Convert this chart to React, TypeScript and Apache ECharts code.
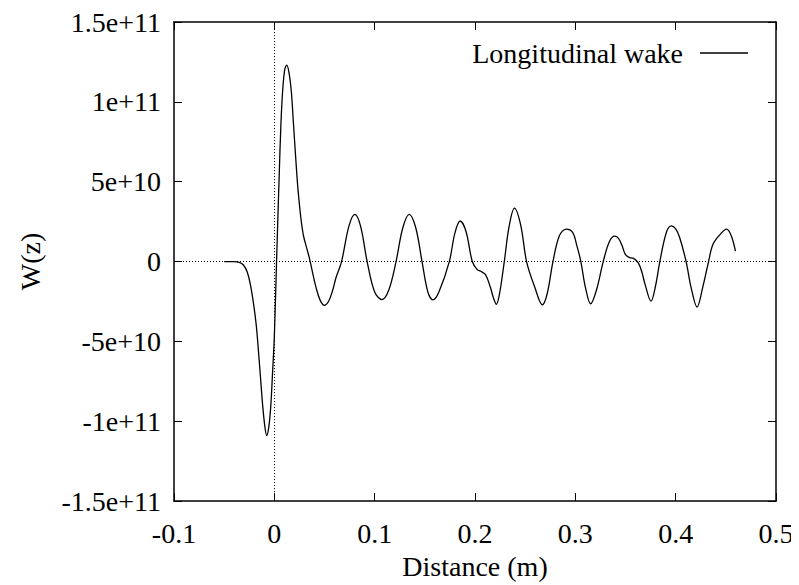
import React, { useEffect, useRef } from "react";
import * as echarts from "echarts";

const seriesName = "Longitudinal wake";
const xTitle = "Distance (m)";
const yTitle = "W(z)";

const xs = [
  -0.05, -0.045, -0.04, -0.035, -0.031, -0.027, -0.024, -0.0207, -0.018, -0.0157,
  -0.0135, -0.0115, -0.0095, -0.0076, -0.0056, -0.0036, -0.0018, 0, 0.0023, 0.0049,
  0.0065, 0.0082, 0.0103, 0.0124, 0.0147, 0.017, 0.019, 0.0213, 0.0232, 0.0252,
  0.0271, 0.0291, 0.032, 0.035, 0.0385, 0.0416, 0.0455, 0.0498, 0.054, 0.058,
  0.0615, 0.067, 0.0744, 0.0803, 0.086, 0.0925, 0.1, 0.1072, 0.114, 0.1213,
  0.128, 0.1344, 0.141, 0.1472, 0.153, 0.158, 0.164, 0.1744, 0.18, 0.1852,
  0.191, 0.1973, 0.2022, 0.2056, 0.2105, 0.2154, 0.2185, 0.2213, 0.2245, 0.2292,
  0.234, 0.2393, 0.2455, 0.2514, 0.2597, 0.2671, 0.272, 0.2777, 0.284, 0.2908,
  0.2973, 0.3015, 0.3055, 0.31, 0.3153, 0.321, 0.3278, 0.334, 0.3393, 0.343,
  0.3465, 0.3498, 0.354, 0.358, 0.3629, 0.3665, 0.3695, 0.3754, 0.38, 0.3842,
  0.3908, 0.3957, 0.4, 0.4039, 0.4104, 0.4154, 0.4213, 0.4269, 0.4328, 0.4367,
  0.4432, 0.4508, 0.4554, 0.4596,
];

const ys = [
  0, 0, 0, -0.05e10, -0.2e10, -0.65e10, -1.4e10, -2.65e10, -4.0e10, -5.7e10,
  -7.5e10, -9.1e10, -10.3e10, -10.9e10, -10.4e10, -9.1e10, -7.0e10, -4.7e10, 0.2e10, 5.5e10,
  8.5e10, 10.6e10, 12.0e10, 12.3e10, 11.8e10, 10.6e10, 8.7e10, 6.5e10, 4.8e10, 3.45e10,
  2.4e10, 1.6e10, 0.9e10, 0.2e10, -0.8e10, -1.63e10, -2.4e10, -2.74e10, -2.5e10, -1.83e10,
  -1.0e10, 0, 2.23e10, 2.95e10, 2.2e10, 0, -1.9e10, -2.38e10, -1.8e10, 0,
  2.1e10, 2.95e10, 2.1e10, 0, -1.9e10, -2.4e10, -1.9e10, 0, 1.8e10, 2.54e10,
  1.9e10, 0, -0.51e10, -0.61e10, -0.82e10, -1.63e10, -2.3e10, -2.68e10, -2.0e10, 0,
  2.2e10, 3.35e10, 2.3e10, 0, -1.63e10, -2.71e10, -2.0e10, 0, 1.6e10, 2.03e10,
  1.83e10, 1.0e10, 0, -1.6e10, -2.65e10, -1.8e10, 0, 1.25e10, 1.59e10, 1.45e10,
  1.01e10, 0.45e10, 0.25e10, 0.2e10, -0.1e10, -0.7e10, -1.43e10, -2.48e10, -1.5e10, 0,
  1.83e10, 2.23e10, 2.05e10, 1.52e10, 0, -1.63e10, -2.85e10, -1.63e10, 0, 1.01e10,
  1.62e10, 2.03e10, 1.62e10, 0.65e10,
];

const xTicks = [-0.1, 0, 0.1, 0.2, 0.3, 0.4, 0.5];
const xTickLabels = ["-0.1", "0", "0.1", "0.2", "0.3", "0.4", "0.5"];
const yTicks = [-1.5e11, -1e11, -5e10, 0, 5e10, 1e11, 1.5e11];
const yTickLabels = ["-1.5e+11", "-1e+11", "-5e+10", "0", "5e+10", "1e+11", "1.5e+11"];

const FONT = "Liberation Serif";
const FS = 28;

function labelFor(v: number, ticks: number[], labels: string[]): string {
  for (let i = 0; i < ticks.length; i++) {
    if (Math.abs(v - ticks[i]) < Math.abs(ticks[1] - ticks[0]) * 1e-6) return "{s|" + labels[i] + "}";
  }
  return "";
}

export default function App() {
  const ref = useRef<HTMLDivElement>(null);
  useEffect(() => {
    if (!ref.current) return;
    const chart = echarts.init(ref.current, null, { renderer: "svg" });
    const data = xs.map((x, i) => [x, ys[i]]);
    const axisLine = { show: true, onZero: false, lineStyle: { color: "#000", width: 1.5 } };
    const axisTick = { show: true, inside: true, length: 8, lineStyle: { color: "#000", width: 1 } };
    const xBase = { type: "value", min: -0.1, max: 0.5, interval: 0.1, splitLine: { show: false }, axisLine, axisTick };
    const yBase = { type: "value", min: -1.5e11, max: 1.5e11, interval: 5e10, splitLine: { show: false }, axisLine, axisTick };
    const rich = { s: { fontFamily: FONT, fontSize: FS, color: "#000" } };
    chart.setOption({
      animation: false,
      textStyle: { fontFamily: FONT },
      grid: { left: 158, right: 23, top: 9, bottom: 76, containLabel: false },
      legend: {
        show: true,
        data: [seriesName],
        right: 46,
        top: 26,
        align: "right",
        icon: "rect",
        itemWidth: 48,
        itemHeight: 1.3,
        selectedMode: false,
        itemStyle: { color: "#000" },
        textStyle: { fontFamily: FONT, fontSize: FS, color: "#000", padding: [0, 12, 0, 0] },
      },
      xAxis: [
        {
          ...xBase,
          position: "bottom",
          name: xTitle,
          nameLocation: "middle",
          nameGap: 44,
          nameTextStyle: { fontFamily: FONT, fontSize: FS, color: "#000" },
          axisLabel: {
            margin: 18,
            fontFamily: FONT,
            fontSize: FS,
            color: "#000",
            rich,
            formatter: (v: number) => labelFor(v, xTicks, xTickLabels),
          },
        },
        { ...xBase, position: "top", axisLabel: { show: false } },
      ],
      yAxis: [
        {
          ...yBase,
          position: "left",
          name: yTitle,
          nameLocation: "middle",
          nameRotate: 90,
          nameGap: 130,
          nameTextStyle: { fontFamily: FONT, fontSize: FS, color: "#000" },
          axisLabel: {
            margin: 13,
            fontFamily: FONT,
            fontSize: FS,
            color: "#000",
            rich,
            formatter: (v: number) => labelFor(v, yTicks, yTickLabels),
          },
        },
        { ...yBase, position: "right", axisLabel: { show: false } },
      ],
      series: [
        {
          name: seriesName,
          type: "line",
          data,
          xAxisIndex: 0,
          yAxisIndex: 0,
          showSymbol: false,
          symbol: "none",
          smooth: 0.35,
          lineStyle: { color: "#000", width: 1.3 },
          itemStyle: { color: "#000" },
          markLine: {
            silent: true,
            symbol: ["none", "none"],
            label: { show: false },
            lineStyle: { color: "#000", width: 1, type: [1, 2] },
            data: [{ yAxis: 0 }, { xAxis: 0 }],
            z: 1,
          },
          z: 3,
        },
      ],
    });
    return () => chart.dispose();
  }, []);
  return <div ref={ref} style={{ width: 791, height: 577 }} />;
}
